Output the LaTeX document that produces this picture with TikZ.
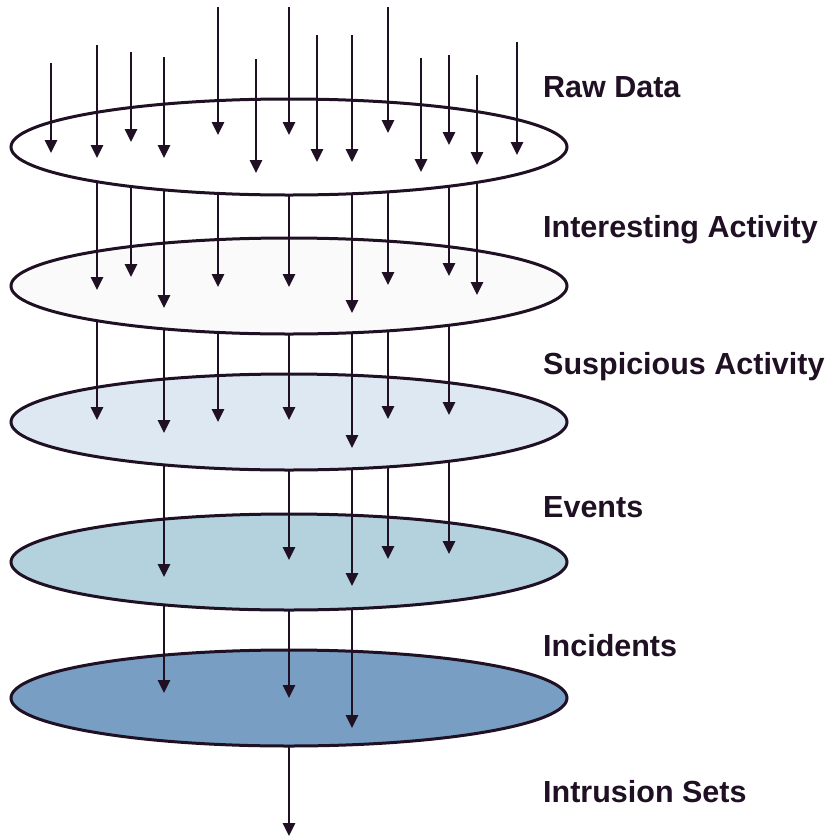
\documentclass[tikz,border=0pt]{standalone}
\usepackage{fontspec}
\setmainfont{Liberation Sans}
\usepackage{xcolor}
\usepackage{tikz}
\usetikzlibrary{shapes.geometric,arrows.meta}
\definecolor{inkc}{RGB}{32,16,36}
\definecolor{fillb}{RGB}{250,250,251}
\definecolor{fillc}{RGB}{221,232,243}
\definecolor{filld}{RGB}{180,209,222}
\definecolor{fille}{RGB}{120,158,196}

\begin{document}
\begin{tikzpicture}[x=1pt,y=-1pt,
	layer/.style={ellipse,draw=inkc,line width=3pt,minimum width=556pt,minimum height=96pt,inner sep=0pt},
	flow/.style={draw=inkc,line width=2.6pt,-{Triangle[width=12pt,length=13pt]}},
	tag/.style={anchor=west,inner sep=0pt,text=inkc,font=\fontsize{30.5}{35}\selectfont\bfseries,text height=21.5pt,text depth=0pt}]
		\useasboundingbox (0,0) rectangle (830,839);
		%
		\node[layer,fill=white] (RD) at (289,147) {};
		\node[layer,fill=fillb] (IA) at (289,286) {};
		\node[layer,fill=fillc] (SA) at (289,422) {};
		\node[layer,fill=filld] (EV) at (289,562) {};
		\node[layer,fill=fille] (IN) at (289,698) {};
		%
		\node[tag] (tRD) at (543,87) {Raw Data};
		\node[tag] (tIA) at (543,227) {Interesting Activity};
		\node[tag] (tSA) at (543,364) {Suspicious Activity};
		\node[tag] (tEV) at (543,507) {Events};
		\node[tag] (tIN) at (543,646) {Incidents};
		\node[tag] (tIS) at (543,792) {Intrusion Sets};
		%
		\foreach \x/\ys/\yt [count=\i] in {51/63/153,97/45/158,131/52/142,164/57/158,218/7/135,256/59/173,289/7/135,
			317/35/162,352/35/162,388/7/133,421/58/172,449/55/145,477/75/165,517/42/155}{
			\coordinate (src\i) at (\x,\ys);
			\coordinate (raw\i) at (\x,\yt);
			\draw[flow] (src\i) -- (raw\i);
		}
		%
		\foreach \cy/\x/\yt [count=\i] in {147/97/290,147/131/277,147/164/308,147/218/287,147/289/287,147/352/313,147/388/285,147/449/276,147/477/295,
			286/97/420,286/164/433,286/218/422,286/289/420,286/352/448,286/388/419,286/449/415,
			422/164/577,422/289/560,422/352/586,422/388/559,422/449/554,
			562/164/693,562/289/698,562/352/728,
			698/289/836}{
			\pgfmathsetmacro\ys{\cy+48*sqrt(1-((\x-289)/278)^2)}
			\coordinate (up\i) at (\x,\ys);
			\coordinate (dn\i) at (\x,\yt);
			\draw[flow] (up\i) -- (dn\i);
		}
\end{tikzpicture}
\end{document}
